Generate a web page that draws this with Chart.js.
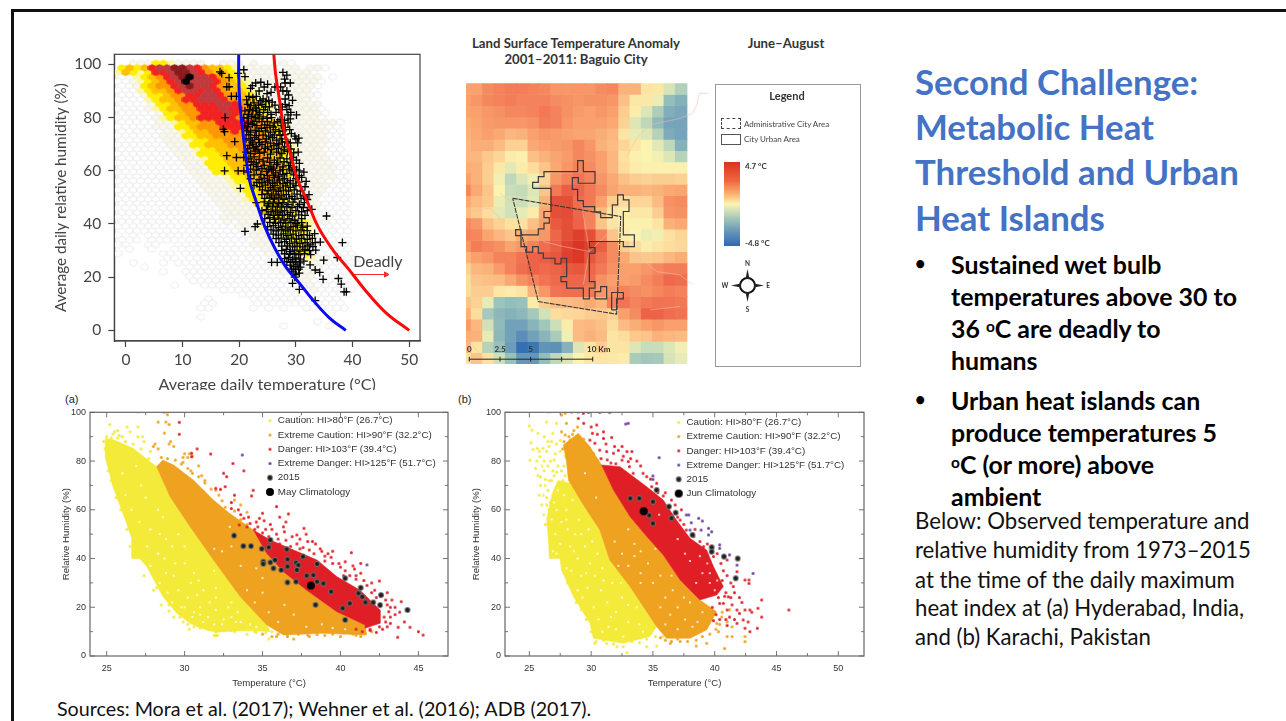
<!DOCTYPE html>
<html>
<head>
<meta charset="utf-8">
<title>Second Challenge</title>
<script src="https://cdn.jsdelivr.net/npm/chart.js@4/dist/chart.umd.min.js"></script>
<style>
html,body{margin:0;padding:0;background:#fff;width:1286px;height:721px;overflow:hidden;font-family:Lato,sans-serif;}
.t{position:absolute;white-space:nowrap;}
canvas{position:absolute;left:0;top:0;filter:blur(.4px);}
.wrap{position:absolute;overflow:hidden;}
.head{color:#4472c4;font-weight:700;font-size:34.8px;line-height:45px;left:915px;}
.bul{color:#000;font-weight:700;font-size:24.9px;line-height:32px;left:951px;}
.dot{color:#000;font-size:18px;line-height:32px;left:915px;font-weight:700;}
.para{color:#111;font-size:22.2px;line-height:29px;left:915px;}
sup{font-size:62%;line-height:0;vertical-align:baseline;position:relative;top:-.42em;}
.mapt{color:#333;font-weight:700;font-size:13.2px;line-height:16px;transform:translateX(-50%);}
</style>
</head>
<body>
<div style="position:absolute;left:11px;top:9px;right:0;height:2.5px;background:#111"></div>
<div style="position:absolute;left:11px;top:9px;bottom:0;width:2.5px;background:#111"></div>

<div class="wrap" style="left:40px;top:45px;width:400px;height:345px"><canvas id="hexChart" width="400" height="360"></canvas></div>

<div class="t mapt" style="left:576px;top:35px">Land Surface Temperature Anomaly</div>
<div class="t mapt" style="left:576px;top:51px">2001–2011: Baguio City</div>
<div class="t mapt" style="left:786px;top:35px">June–August</div>
<div class="wrap" style="left:450px;top:75px;width:270px;height:295px"><canvas id="mapChart" width="270" height="295"></canvas></div>

<div style="position:absolute;left:715px;top:84px;width:144px;height:281px;border:1px solid #999"></div>
<div class="t" style="left:787px;top:89px;transform:translateX(-50%);font-weight:700;font-size:11px;color:#333">Legend</div>
<div style="position:absolute;left:721px;top:118px;width:18px;height:9px;border:1px dashed #444"></div>
<div class="t" style="left:744px;top:119px;font-size:8px;color:#444">Administrative City Area</div>
<div style="position:absolute;left:721px;top:134px;width:18px;height:9px;border:1px solid #555"></div>
<div class="t" style="left:744px;top:134px;font-size:8px;color:#444">City Urban Area</div>
<div style="position:absolute;left:724px;top:162px;width:16px;height:84px;background:linear-gradient(#d9321f,#f0663f 22%,#fbb06e 38%,#fbf4b1 50%,#c6dcb8 60%,#6f9fb8 80%,#2d69b3)"></div>
<div class="t" style="left:745px;top:161px;font-size:8px;font-weight:700;color:#333">4.7 °C</div>
<div class="t" style="left:745px;top:238px;font-size:8px;font-weight:700;color:#333">-4.8 °C</div>
<svg style="position:absolute;left:722px;top:258px" width="52" height="56" viewBox="0 0 52 56">
<circle cx="25.5" cy="27.5" r="7.5" fill="#fff" stroke="#111" stroke-width="2"/>
<path d="M25.5 11 L27.5 21 L23.5 21 Z M25.5 44 L27.5 34 L23.5 34 Z M9 27.5 L19 25.5 L19 29.5 Z M42 27.5 L32 25.5 L32 29.5 Z" fill="#222"/>
<text x="25.5" y="8" font-size="6.5" font-weight="700" text-anchor="middle" fill="#333" font-family="Lato">N</text>
<text x="25.5" y="54" font-size="6.5" font-weight="700" text-anchor="middle" fill="#333" font-family="Lato">S</text>
<text x="3" y="30" font-size="6.5" font-weight="700" text-anchor="middle" fill="#333" font-family="Lato">W</text>
<text x="46" y="30" font-size="6.5" font-weight="700" text-anchor="middle" fill="#333" font-family="Lato">E</text>
</svg>

<div class="t" style="left:65px;top:393px;font:11px 'Liberation Sans';color:#222">(a)</div>
<div class="t" style="left:458px;top:393px;font:11px 'Liberation Sans';color:#222">(b)</div>
<div class="wrap" style="left:55px;top:400px;width:398px;height:295px"><canvas id="chartA" width="398" height="295"></canvas></div>
<div class="wrap" style="left:465px;top:400px;width:405px;height:295px"><canvas id="chartB" width="405" height="295"></canvas></div>

<div class="t head" style="top:59px">Second Challenge:</div>
<div class="t head" style="top:104px">Metabolic Heat</div>
<div class="t head" style="top:149px">Threshold and Urban</div>
<div class="t head" style="top:195px">Heat Islands</div>
<div class="t dot" style="top:247px">•</div>
<div class="t bul" style="top:248px">Sustained wet bulb</div>
<div class="t bul" style="top:280px">temperatures above 30 to</div>
<div class="t bul" style="top:312px">36 <sup>o</sup>C are deadly to</div>
<div class="t bul" style="top:344px">humans</div>
<div class="t dot" style="top:383px">•</div>
<div class="t bul" style="top:384px">Urban heat islands can</div>
<div class="t bul" style="top:416px">produce temperatures 5</div>
<div class="t bul" style="top:448px"><sup>o</sup>C (or more) above</div>
<div class="t bul" style="top:480px">ambient</div>
<div class="t para" style="top:506px">Below: Observed temperature and</div>
<div class="t para" style="top:535px">relative humidity from 1973–2015</div>
<div class="t para" style="top:565px">at the time of the daily maximum</div>
<div class="t para" style="top:593px">heat index at (a) Hyderabad, India,</div>
<div class="t para" style="top:622px">and (b) Karachi, Pakistan</div>
<div class="t" style="left:57px;top:697px;font-size:19.7px;line-height:24px;color:#111">Sources: Mora et al. (2017); Wehner et al. (2016); ADB (2017).</div>

<script>
// ---------- top left: hexbin with crosses ----------
var hexXTicks = [0, 10, 20, 30, 40, 50];
var hexYTicks = [0, 20, 40, 60, 80, 100];
// one string per hex row from RH 100 down, one letter per cell
var hexRows = [
"..cccyylcccc..ccc.c..ccw........",
"yayarmmddmroaaylccccc.cc.ccw....",
"laylyrrmddmroaaylcccccccccw.....",
"wwlyaormdkmmroaylcccccccccc.w...",
"wwclyaormkmmmroaylcccccccccw....",
"wwcyaoormdmmroaaylccccccccw.....",
"wwwlyaaormmrmroaaylcccccccw.....",
"wwwcyyaoorrmmrooaylcccccccw.....",
"wwwwlyaaorrmmmrooaylccccccw.....",
"wwwwcyyaoorrrmmroaaylcccccc.....",
"wwwwclyaaoorrrmrroaylccccccw....",
"wwwwwcyyaoorrrmrooaylccccccw....",
"wwwwwclyaaorrrrroaaylccccccw....",
"wwwwwcclyaaoorrrrroaaylccccccw..",
"wwwwwcccyyaooorrrrooaylcccccww..",
"wwwwwwcclyaaoooroooaaylcccccww..",
"wwwwwwcccyyaaoooooooaylcccccww..",
"wwwwwwccclyyaaooooooaylcccccww..",
"wwwwwwwcccyyaaaoooooaaylccccww..",
"wwwwwwwccclyyaaaooooaaylcccwww..",
"wwwwwwwwcccyyyaaaaooaaylccccww..",
"wwwwwwwwccclyyaaaoooaylcccccwww.",
"wwwwwwwwwcccyyyaaaoooyylcccccww.",
"wwwwwwwwwcccyyyaaaaoooylcccccww.",
"wwwwwwwwwwcccyyyaaaooaylcccccww.",
"wwwwwwwwwwcccclyyaaoooylcccccww.",
"wwwwwwwwwwwcccclyyaooaylccccwww.",
"wwwwwwwwwwwccccllyyaoaylccccwww.",
"wwwwwwwwwwwwcccclyyaaoylccccwww.",
"wwwwwwwwwwwwcccccyyyaaylcccwwww.",
"wwwwwwwwwwwwwcccclyyyaylcccwwww.",
"wwwwwwwwwwwwwcccccyyyaylcccwwww.",
"wwwwwwwwwwwwwwccccclyyylcccwwww.",
"wwwwwwwwwwwwwwcccccaylyyccwwwww.",
"wwwwwwwwwwwwwwcccccclyyylccwwww.",
"wwwwwwwwwwwwwwcwcccclyyaylccwww.",
"wwwwwwwwwwwwwwwwccclcclyylcwwww.",
".wwwwwwwwwwwwwwwwcccclyyylcwwww.",
"www.wwwwwwwwwwwwwwcccclylcwwww..",
"www.wwww.wwwwwwwwwcccccyylcwwww.",
"ww..ww..wwwwwwwwwwccccclylwwwww.",
".w..w..wwwwwwwwwwwwcccclycwwwww.",
"w.....ww.wwwwwwwwwwwccccyycwwwww",
"......ww.wwwwwwwwwwwwcccclccwwww",
"..w...w.wwwwwwwwwwwwwccccccwwwww",
"...w.....wwwwwwwwwwwwwcccccwwww.",
"......w..wwwwwwwwwwwwwcccccwwww.",
".........wwwwwwwwwwwwwwcccwwwww.",
"..........wwwwwwwwwwwwwwccwwwww.",
".......w...wwwwwwwwwwwwwccwwwww.",
"..............wwwwwwwwwwwwcwwwww",
"................wwwwwwwwwwwwwww.",
"............w.....wwwwwwwwwwww..",
"...........ww.....wwwwwwwwwwww..",
"...........ww.....w.w.w..wwwwww.",
"................................",
"...........w....................",
"..........................w.....",
"......................w.....w..."
];
var hexColors = {w:"#ffffff", c:"#f9f8ea", l:"#fbf7a6", y:"#ffee00", a:"#ffc000", o:"#ff9800", r:"#f22222", m:"#c23a3e", d:"#8b1a1e", k:"#000000"};
var hexOrder = ["w", "c", "l", "y", "a", "o", "r", "m", "d", "k"];

var bluePts = [[19.9,103.8],[19.9,96.6],[20.1,85.3],[20.6,75.3],[21.1,66.5],[21.8,56.5],[23.1,47.7],[24.5,39],[26.3,30.8],[28.4,23.3],[30.4,18.3],[33,11.4],[36,4.5],[38.8,0]];
var redPts = [[26.1,103.8],[26.4,96.6],[27.2,85.3],[28,74],[29,66.5],[30.1,57.8],[31.9,49],[33.9,39],[36.6,30],[39.2,23.3],[42.2,15.2],[46,6.4],[50,0]];
var arrowPts = [[40.2,21],[45.9,21]];

var crossPts = [
[16.6,97.2],[16.9,96.6],[18.2,95],[20.8,98],[19.8,96.6],[21,95.4],[17.8,91.6],[18.2,91.6],[18.6,88],[19.5,88],[17.5,80],[17.2,75.6],[17.4,74.7],[19.2,71],[17.8,65.7],[17.4,60],[19.5,65],[19.8,60],[20.2,53.4],
[35.4,43],[38.2,33],[34.9,26.4],[37.3,27.4],[37.5,19.5],[38,17.4],[38.5,14.5],[38.9,14.5],[34.8,19.2],[34.2,21.8],[33.4,22.7],[32.5,24.6],[29.4,17.7],[30.6,15.4],[33.4,11.2],[25.7,25.6],[26.7,25.6],[21,37.2],[22.8,39],[23.2,40],
[27.7,97],[28.4,96],[28,94.5],[29,93],[28.1,93],[22.9,93],[23.8,93.3],[22,91],[26.3,91.5],[27.3,91.5],[28.4,90],[23.5,90],[27.7,90],[24.9,89],[25.6,89.5],
[21.7,88],[22.4,87.5],[23,88],[24.2,87],[25.2,86.5],[28.1,87],[21.5,85],[22,84.5],[22.6,85.5],[23.4,84.7],[24,85],[24.6,84],[25.3,84],[28.1,85],[28.8,84.5],
[21,82.5],[21.8,83],[22.4,82.5],[23,82.8],[23.6,82],[24.3,83],[25,82],[28.4,83],[29.1,82],[20.8,80],[21.4,79.8],[22.2,80.5],[22.9,80],[23.5,79.5],[24.2,80.3],[24.9,79.7],[25.7,80],[28.6,81],[29,79.5],[30.1,81],
[21,77],[21.6,78],[22.3,77.5],[23.1,77],[24.5,77.3],[26.2,78],[26.8,78.5],[27.4,77],[21.3,75],[22,74.5],[22.8,75.2],[23.5,74.8],[24.6,75],[25.5,74.5],[26.4,75.5],[27,74.8],[27.7,75],
[21.2,72],[22,71.5],[22.7,72.5],[23.4,71.8],[24.8,72],[25.9,72.5],[26.6,71.5],[27.5,72],[28.4,71],[30.5,72.3],[30,72],[21.8,69.5],[22.4,70],[23,69.2],[24,69.8],[25,69],[26.1,69.5],[27,70],[28,69],[29,70.5],[30.3,70.5],
[21.2,67],[22,66.5],[22.8,67.4],[23.6,66.6],[24.4,67],[25.5,66.3],[26.6,67],[27.5,66.5],[28.5,67.3],[29.6,66.7],[30.4,67],[20.8,65],[21.7,64.5],[22.6,65.2],[23.5,64.3],[25,64.8],[26.2,64],[27.2,64.8],[28.4,64.5],[29.5,65],[30.1,64],
[21.4,62],[22.5,62.3],[23.3,61.6],[24.4,62],[25.6,61.5],[26.6,62.3],[27.7,61.5],[28.7,62],[29.6,61.4],[20.8,60],[21.6,59.5],[24.8,59.8],[25.7,60.3],[26.4,59.2],[27.2,60],[28.4,59],[29.3,60],[30.6,60],[31.4,59.5],
[22,57],[23.5,56.7],[24.4,57.2],[25.3,56.5],[26.2,57.4],[27.1,56.5],[28,57],[29,56.3],[30,57],[31,57.5],[31.8,56],[22.6,54.5],[23.6,54],[24.6,54.6],[25.5,53.7],[26.3,54.4],[27.2,53.6],[28.2,54.3],[29,53.8],[30,54.4],[31.6,54],
[24,51],[24.9,51.3],[25.7,50.6],[26.5,51.2],[27.4,50.6],[28.3,51],[29.3,50.4],[30.2,51.2],[31.3,50.6],[32.3,51],[23,48],[24.4,48.3],[25.2,47.6],[26,48.2],[26.9,47.6],[27.7,48],[28.6,47.4],[29.5,48.2],[30.6,47.4],[31.5,48],
[24,45],[24.8,45.4],[25.6,44.6],[26.4,45.2],[27.2,44.5],[28,45],[29,44.4],[30,45],[31,44.6],[32,45],[32.8,45.5],[24.5,42],[25.4,42.4],[26.2,41.7],[27,42.2],[27.9,41.5],[28.8,42],[29.8,41.4],[31,42],
[25,39],[26,39.4],[26.9,38.6],[27.7,39.2],[28.6,38.5],[29.5,39],[30.3,39.6],[31.2,38.7],[32,39.2],[26,36.2],[26.9,35.8],[27.8,36.3],[28.6,35.6],[29.5,36.2],[30.5,35.6],[31.4,36],[32.4,35.7],[33.3,36.4],
[27,33],[28,33.4],[28.9,32.6],[29.8,33.2],[30.7,32.6],[31.6,33],[32.5,32.4],[33.4,33],[34.3,33.2],[27.5,30],[28.3,30.4],[29,29.6],[29.8,30.2],[30.7,29.8],[31.6,30.4],[32.4,30],[33.5,30.2],
[28,27],[28.7,27.4],[29.4,26.6],[30,27.2],[30.8,26.8],[29,24.5],[29.6,24],[30.2,24.6],[30.8,23.8],[29.5,22],[30,21],[30.6,21.5],
[22.3,92],[24.4,91.5],[25,92.5],[28.7,88.5],[29.4,86.5],[27.6,84],[21.3,86.7],[23.7,86.4],[22.9,83.6],[24.7,86],[25.8,85.8],[26.3,84.7],[27,83],[26.5,82],[25.6,81.2],[23.3,81],[21.6,81.2],[22.6,78.6],[24,78.5],[25,78.5],[25.4,77],[27.2,79.2],[28,79],[28.6,78],
[21.5,76.5],[23.9,76],[24.9,76.2],[26,76.4],[28.1,76.3],[28.9,75.5],[21.7,73.5],[23,73.2],[24.2,73.4],[25.2,73],[26.2,73.5],[27.2,73.3],[28,73.6],[29.2,74],[29.8,73],[22.3,70.8],[23.6,70.6],[24.6,70.9],[25.5,70.4],[26.6,70.2],[27.6,70.8],[28.6,70.5],[21.5,68.3],[22.5,68.6],[23.3,68],[24.6,68.4],[25.7,68],[26.9,68.4],[27.9,67.9],[29.1,68.2],
[22.1,63.4],[23,63],[24.2,63.6],[25.4,63.2],[26.8,63],[27.9,63.4],[29,63],[30.6,62.8],[22,60.6],[23,60.3],[24,60.8],[25.2,60.6],[26,61],[27.7,60.4],[28.9,60.6],[30.1,60.5],[22.6,58.5],[23.8,58.6],[25,58.2],[26,58.4],[26.9,58],[27.7,58.6],[29.6,58.5],[30.6,58.2],
[23.1,55.6],[24,55.5],[25,55.7],[25.9,55.3],[26.7,55.7],[27.7,55.2],[28.5,55.6],[29.5,55.1],[30.5,55.7],[24.1,52.8],[25.1,52.5],[26,52.8],[26.9,52.3],[27.8,52.7],[28.7,52.4],[29.7,52.8],[30.8,52.4],[24.5,49.6],[25.4,49.8],[26.2,49.4],[27,49.8],[27.9,49.3],[28.8,49.7],[29.8,49.4],[30.9,49.6],[32,49.2],
[25,46.8],[25.9,46.4],[26.7,46.7],[27.5,46.3],[28.4,46.6],[29.3,46.2],[30.3,46.6],[31.3,46.2],[25.1,43.6],[26,43.2],[26.8,43.7],[27.6,43.2],[28.5,43.6],[29.4,43],[30.5,43.4],[31.6,43.2],[25.4,40.6],[26.4,40.2],[27.3,40.6],[28.2,40.3],[29.1,40.6],[30,40.2],[31,40.5],
[25.6,37.8],[26.5,37.4],[27.4,37.9],[28.2,37.4],[29,37.8],[30,37.4],[30.9,37.8],[32,37.5],[26.5,34.5],[27.4,34.7],[28.3,34.2],[29.2,34.7],[30.1,34.3],[31,34.6],[32,34.2],[32.9,34.6],[27.5,31.7],[28.5,31.8],[29.4,31.4],[30.2,31.7],[31.2,31.4],[32.1,31.8],[33,31.5],
[28,28.8],[28.9,28.6],[29.7,28.9],[30.5,28.5],[31.5,28.8],[32.6,28.5],[28.4,25.8],[29.1,25.6],[29.9,25.9],[30.6,25.4],[31.4,26],[29.2,23],[29.9,22.8],[30.5,23],[29.8,20]
];

// ---------- top middle: anomaly grid, degrees C, top row first ----------
var mapCols = ["c0","c1","c2","c3","c4","c5","c6","c7","c8","c9","c10","c11","c12","c13","c14","c15","c16","c17","c18","c19"];
var mapGrid = [
[1.9,2.0,2.4,2.6,2.7,2.7,2.6,2.5,2.2,2.2,2.2,2.2,2.4,2.5,1.6,1.6,0.4,0.3,-0.7,-1.5],
[2.0,2.2,2.5,2.6,2.7,2.6,2.6,2.6,2.4,2.3,2.2,2.3,2.3,2.2,1.3,0.3,0.3,-0.3,-2.2,-2.6],
[1.9,2.0,2.2,2.3,2.5,2.5,2.6,2.8,2.6,2.3,2.1,2.0,2.2,2.0,1.0,0.2,-0.6,-1.6,-2.7,-2.9],
[1.7,1.9,2.1,2.2,2.2,2.2,2.3,2.7,2.6,2.2,2.0,2.0,2.0,1.8,0.9,-0.6,-1.2,-2.3,-3.0,-3.0],
[1.6,1.8,2.0,1.8,1.5,1.6,2.0,2.2,2.1,2.0,1.9,1.9,1.7,1.5,0.4,-0.4,-0.6,-1.4,-2.8,-3.0],
[1.5,1.7,1.7,1.4,0.9,0.9,1.8,2.0,2.1,2.2,2.5,2.2,1.6,1.4,0.8,0.3,0,-0.5,-1.2,-2.6],
[1.5,1.5,1.1,0.8,0.2,0.1,1.3,1.6,1.9,2.1,2.5,2.3,2.0,1.5,0.5,0.1,0,-0.2,-0.6,-1.4],
[1.7,1.6,1.0,0.3,-0.5,0.2,0.6,1.2,1.8,2.2,2.6,2.4,2.0,1.5,0.6,0.2,0.1,0.1,0.1,0.1],
[2.0,1.6,1.0,-0.2,-1.2,-0.6,-0.2,0.8,2.2,2.6,2.9,2.6,2.2,1.8,1.3,1.0,0.9,1,1,0.9],
[2.5,1.8,1.2,0,-1,-1.1,-0.6,1.2,2.8,3.4,3.2,2.8,2.4,1.9,1.6,1.6,1.5,1.6,1.8,1.9],
[1.8,1.4,1.1,-0.3,-0.8,-0.9,-0.5,1.6,3.8,3.8,3.0,2.8,2.0,1.0,0.6,0.8,0.8,1.4,2.3,2.4],
[1.4,1.1,0.6,-0.5,-0.8,-0.4,0.2,1.8,3.8,3.9,3.2,2.6,1.4,0.4,0.2,0.3,0.3,1.0,2.2,2.3],
[2.4,2.2,1.3,0.9,0.5,0.5,1.3,2.0,3.5,3.8,3.3,2.6,1.2,0.4,0.1,0.1,0.1,0.4,1.6,1.8],
[2.6,2.5,1.9,1.5,1.2,1.7,1.9,2.2,3.2,3.8,4.2,3.8,2.6,1.2,0.2,0,-0.3,-0.2,0.5,0.8],
[2.2,2.7,2.5,2.3,1.9,2.2,2.6,3.0,3.4,4.1,4.5,4.2,3.4,2.4,1.0,0.6,0.2,0.4,0.6,0.7],
[1.6,2.0,2.2,2.6,2.6,2.9,3.3,3.4,3.6,4.2,4.4,3.6,3.0,2.4,1.8,1.2,1.1,1.2,1.5,1.7],
[0.9,1.5,1.6,2.1,2.6,3.0,3.3,3.1,3.3,3.5,3.6,3.2,2.8,2.3,2.0,2.0,2.2,2.5,2.7,2.7],
[0.6,1.2,1.3,1.4,1.8,2.3,2.6,2.9,3.1,3.2,3.2,3.0,2.3,2.0,2.0,2.1,2.4,2.7,3.1,3.0],
[0.6,1.0,1.0,0.3,0.2,0.4,1.6,2.2,2.9,3.0,3.0,2.8,2.2,2.2,2.6,2.4,2.3,2.5,2.7,2.6],
[1.2,0.9,-0.4,-2,-2.2,-2.1,0.2,1.0,1.3,1.4,1.5,1.8,1.5,2.6,2.9,2.6,2.8,2.9,2.9,2.8],
[1.6,0.6,-1.8,-2.4,-2.6,-2.4,-1.8,-0.8,0.6,0.7,0.8,1.0,1.1,0.9,2.0,2.4,3.3,3.3,3.0,2.9],
[2.1,1.5,-0.8,-2.3,-3.1,-3.1,-2.5,-1.9,-0.9,0.2,1.4,1.5,1.3,0.6,1.4,1.7,2.0,2.2,2.0,2.0],
[1.7,1.6,-0.4,-2.4,-3.1,-3.7,-3.1,-2.5,-1.7,-0.2,1.4,1.6,1.4,0.4,0.6,1.1,1.2,1.6,1.5,1.4],
[1.5,0.4,-1.4,-2.1,-3.2,-4.6,-4.4,-3.5,-3.6,-2.6,-0.6,0.4,1.0,0.4,0.4,-0.6,-1.0,-1.0,-0.6,-0.2],
[0.5,1.2,0.5,-0.9,-2.1,-3.4,-3.4,-2.2,-1.2,-0.6,0,0.3,0.4,0.3,0.2,-1.7,-1.9,-1.8,-0.7,-0.4]
];
var rampStops = [[-4.8,[45,105,179]],[-3,[118,164,186]],[-2,[156,196,186]],[-1,[200,221,186]],[0,[251,244,177]],[1,[252,205,145]],[2,[249,160,108]],[3,[240,110,80]],[4.7,[215,45,30]]];

// outlines in map cells (column, row)
var urbanOutline = [[5.88,9.35],[5.88,8.82],[6.38,8.82],[6.38,8.31],[6.88,8.31],[6.88,7.86],[9.85,7.86],[9.85,6.88],[10.35,6.88],[10.35,7.86],[11.38,7.86],[11.38,8.9],[9.91,8.9],[9.91,8.4],[9.38,8.4],[9.38,9.44],[9.85,9.44],[9.85,10.45],[10.35,10.45],[10.35,10.98],[11.35,10.98],[11.35,11.45],[11.88,11.45],[11.88,11.96],[12.91,11.96],[12.91,10.83],[13.38,10.83],[13.38,9.94],[13.88,9.94],[13.88,10.39],[14.38,10.39],[14.38,11.42],[13.88,11.42],[13.88,13.5],[14.85,13.5],[14.85,14.54],[13.88,14.54],[13.88,14.09],[10.88,14.09],[10.88,14.63],[11.38,14.63],[11.38,15.13],[10.88,15.13],[10.88,17.66],[11.38,17.66],[11.38,18.25],[10.88,18.25],[10.88,19.2],[10.35,19.2],[10.35,18.25],[8.88,18.25],[8.88,17.66],[8.38,17.66],[8.38,17.21],[8.88,17.21],[8.88,15.58],[8.38,15.58],[8.38,16.08],[7.85,16.08],[7.85,15.58],[6.82,15.58],[6.82,15.13],[6.38,15.13],[6.38,14.54],[5.88,14.54],[5.88,15.04],[5.35,15.04],[5.35,14.54],[4.85,14.54],[4.85,13.56],[4.38,13.56],[4.38,13.03],[4.85,13.03],[4.85,13.5],[6.38,13.5],[6.38,12.97],[6.88,12.97],[6.88,12.46],[7.35,12.46],[7.35,11.96],[6.88,11.96],[6.88,11.42],[7.5,11.42],[7.5,9.35],[6.38,9.35],[5.88,9.35]];
var urbanSmall1 = [[11.38,19.2],[12.41,19.2],[12.41,18.1],[11.88,18.1],[11.88,18.55],[11.38,18.55],[11.38,19.2]];
var urbanSmall2 = [[12.85,20.18],[13.29,20.18],[13.29,19.2],[13.88,19.2],[13.88,18.63],[12.85,18.63],[12.85,20.18]];
var adminOutline = [[4.12,10.24],[13.65,11.87],[13.59,13.5],[13.29,20.56],[6.38,19.44],[4.12,10.24]];
var roads = [
[[21.4,0.9],[20.6,0.9],[20.35,1.9],[20,2.67],[18.88,3.12],[16.24,3.71],[15.06,4.9],[14.18,6.53]],
[[10.21,10.83],[10.5,12.6],[10.88,14.98],[10.35,17.95]],
[[6.82,14.09],[8.59,14.54],[10.88,14.98],[12.71,13.21],[13.88,12.6]],
[[14.76,14.98],[16.82,16.77],[18.88,17.06],[20,17.95]],
[[16.24,20.18],[18.88,19.88]],
[[3,9.8],[4.47,10.83]],
[[0.35,11.42],[2.12,11.12],[3,12.02]],
[[0.06,22.7],[1.53,24.5]]
];
var scaleBarPts = [[0.29,24.57],[3,24.57],[5.7,24.57],[8.44,24.57],[11.18,24.57]];
var scaleLabels = ["0", "2.5", "5", "", "10 Km"];

// ---------- bottom charts ----------
var tempTicksA = [25, 30, 35, 40, 45];
var tempTicksB = [25, 30, 35, 40, 45, 50];
var tempMinor = [27.5, 32.5, 37.5, 42.5, 47.5];
var humTicks = [0, 20, 40, 60, 80, 100];
var humMinor = [10, 30, 50, 70, 90];
var legendNames = ["Caution: HI>80°F (26.7°C)", "Extreme Caution: HI>90°F (32.2°C)", "Danger: HI>103°F (39.4°C)", "Extreme Danger: HI>125°F (51.7°C)", "2015"];

var yellowAreaA = [[24.9,89.3],[25.5,88.6],[26.7,85.2],[28.2,77.7],[29.06,65.4],[30.35,53],[31.85,39.4],[33.56,24.4],[35.27,12.7],[35.5,10],[34,10.5],[32,9.7],[31,11.5],[30.35,13.4],[29.5,17.5],[28.6,24.4],[27.57,36.7],[27.1,40],[26.6,40],[26.6,48.3],[26.2,55.8],[25.4,69.5],[24.9,81.8],[24.9,89.3]];
var orangeAreaA = [[28.2,77.7],[28.6,80.4],[29.3,78.4],[30.56,72.2],[31.85,64],[32.9,58.5],[34.41,51.7],[35.27,42.1],[36.34,34.6],[37.83,27],[39.76,18.2],[41.58,12.7],[41.68,8.6],[38.9,9.3],[36.34,8.6],[35.27,12.7],[33.56,24.4],[31.85,39.4],[30.35,53],[29.06,65.4],[28.2,77.7]];
var redAreaA = [[34.41,51.7],[35.5,47.6],[37,43.5],[38.5,39.4],[39.76,32.6],[41.26,27],[42.54,18.9],[42.54,13.4],[41.58,11.4],[41.58,12.7],[39.76,18.2],[37.83,27],[36.34,34.6],[35.27,42.1],[34.41,51.7]];
var yellowDotsA = [[25.2,95],[25.5,92],[25.4,91],[25.7,92.5],[26.3,94],[27,94],[26.5,92],[27,90],[27.3,90],[26,90],[25.8,90.5],[27.4,88],[27,100],[27.8,84],[32,8.5],[32.1,8.5],[31.9,8.5],[33.2,10],[34,9],[34.5,10],[35.4,7],[35.6,10],[30.6,12],[31,11.5],[30.3,11],[29.9,14],[29.3,16],[28.5,21],[29,18.5],[28,27],[27.4,33],[33,12],[31.5,11],
[24.9,85],[24.8,88],[25,90],[25.3,89.5],[25.7,89.5],[26.2,88],[26.7,87],[27.2,85],[27.7,81],[25.1,76],[25.3,72],[25.6,65],[25.9,60],[26.3,52],[26.5,45],[28.2,28],[29,21],[29.7,16],[30.2,13],[30.9,12.5],[32,10],[33,10.5],[33.8,11],[34.6,9.7],[35.2,9.5]];
var orangeDotsA = [[28.7,100],[28.9,99],[28.3,96],[28.8,96],[29,95],[28.7,91.5],[29.1,88],[29.3,86],[29,87],[28.1,87],[28.3,85],[28,86],[30,83],[30.3,83],[30.5,82],[30.2,81.5],[29.9,81.5],[31.1,74],[31.3,71],[32,68],[32.2,66],[33.2,64],[33.6,62],[34,59],[37,7],[38,8],[39,8.5],[40,8],[41.3,8],[42,10],[36.6,8],[35.9,8],
[28.5,81.5],[28.9,81],[29.4,80.4],[29.8,78.8],[30.2,77],[30.5,75],[30.9,73.6],[31.3,72],[31.7,68.5],[31.2,67.5],[32.4,63.7],[32.6,61],[33.2,59.5],[33.6,56],[34,54],[35,9],[35.6,8],[36,9],[36.6,9],[37.3,9],[37.9,8.6],[38.5,8.8],[39.5,9],[40.2,9.5],[40.8,9],[41.3,9],[41,8.5],[30.9,78],[29.9,79.5],[30.4,76]];
var redDotsA = [[29.66,95.9],[29.66,91],[30.45,83.2],[30.45,81.8],[30.8,85],[31.67,82.9],[32.5,75],[33.1,79],[33.8,76],[32.7,73.6],[32,68.8],[32.3,68.4],[32.6,69.5],[33.2,66],[34.4,68],[34.3,65.7],[35.9,61.3],[36.66,58.3],[36.1,57],[34.8,56.5],[35.5,54],[33,63],[33.45,60],[33.8,56.5],[34.2,54.4],[37.2,49.7],[37.66,52.4],[36.34,53],[38.7,44],[39.2,42],[40.7,42.4],[40.3,38.7],[41.3,38],[40.9,35.7],[41.5,31],[42.5,30.8],[42.2,27],[43.9,22.3],[44.1,14],[44.46,11.8],[45,10],[45.3,8.6],[43.67,7.7],[43.7,11.8],[43.2,13.4],[43.1,18.2],[34.5,52],[35,50.5],[35.4,49],[36,48],[36.5,47.5],[37.2,46],[37.6,44.5],[38.3,42],[39,41],[39.5,38],[40,36.5],[40.6,33],[41,31.5],[42,26],[42.7,25],[43,21],[43.2,16],[43.5,17],[42.9,14],[42.5,12],[42.7,11],[41.9,10.5],
[34,53],[34.7,53],[35.2,52],[35.9,50],[36.4,51],[36.9,49],[37.4,48],[37.9,47],[38.4,46],[36.1,46],[36.8,45],[37.4,44],[38,43.5],[38.8,43],[39,39],[39.4,40.5],[39.9,38],[40.3,35],[40.8,37],[40.2,33],[41,33],[41.3,34],[41.7,29],[42,30],[42.3,24],[42.9,23],[43,26],[43.3,23],[43.5,20],[43.8,18],[43.2,20],[43,12],[42.8,16],[41.9,11],[42.3,9.7],[41.4,10],[41,11],[33,60.5],[33.6,58],[34.1,57],[34.6,55],[35.1,55.5],[35.6,52],[33.5,53.8],[35,58.6],[36.5,55],[37.8,50],[38.2,47],[39.5,43]];
var purpleDotsA = [[33.7,82.5],[41.7,37.4]];
var dots2015A = [[33.17,49.4],[33.77,45.1],[34.26,45.1],[34.95,44],[35.4,44.6],[35.5,47.6],[35.05,38.7],[35.05,37.8],[35.5,38.4],[35.8,39.4],[35.7,36],[36.2,35.3],[36.55,43.8],[36.6,39.7],[36.6,36.7],[36.6,30.2],[37.15,38.3],[37.3,37.3],[37.2,35.3],[37.15,30.5],[37.6,40.8],[38.5,37.8],[37.83,33],[38.26,33.2],[38.5,30.5],[38.9,29.8],[39.4,26.4],[38.4,21],[40.3,31.9],[40.3,14.8],[40.14,19.6],[40.6,21.6],[41.3,28],[41.15,25.7],[41.4,24.3],[41.6,22],[42.1,22],[42.54,20.9],[42.6,25],[44.3,18.9]];
var climA = [[38.1,28.9]];
var whiteYellowA = [[30,20],[30.6,18],[31,20],[31.5,16],[32,19],[32.5,15],[33,16],[31.6,22],[30.2,24],[29.6,27],[30.8,25],[33.6,14],[34.2,13],[32.8,20],[31.2,14],[29.2,22],[28.9,26],[28.4,30],[29.3,33],[27.8,37],[28.7,40],[27.6,45],[27.1,55],[26.6,60],[26.2,66],[27.2,70],[26,75],[26.9,78],[27.5,65],[28.4,50],[29.2,45],[30,38],[30.9,31],[32,28],[33,22],[31.9,35],[29.6,50],[28.3,60],[28.6,57],[30,45],[34.6,12],
[30.5,16],[31.9,13],[32.4,13],[33.3,14],[31,17],[32,24],[33.4,18],[29.8,20],[31.2,27],[30.4,30],[29.4,38],[28.3,42],[30.6,34],[28.8,34],[27.8,52],[28.8,48]];
var whiteOrangeA = [[31.9,44],[32.4,43],[33.6,37],[34,27],[34.5,22],[35,26],[35.4,18],[36.4,21],[33,45],[37.8,12],[38.8,13],[36,14],[37,17],[32.9,53],[34.6,36],[35,32],[40.3,11],[39.5,11.5]];

var yellowAreaB = [[28.3,71],[29.37,62],[30.7,51.7],[31.5,39.4],[33.14,28.5],[35.3,12],[34.76,8],[32.6,5.2],[30.18,7.25],[29.9,13.4],[28.56,24.4],[27.6,35.3],[27.48,40],[26.62,40],[26.54,47.6],[26.4,56],[26.8,66],[27.3,72],[28.3,71]];
var orangeAreaB = [[27.75,86.6],[28.96,91.4],[29.9,85.9],[30.85,78.4],[31.8,68.1],[33.14,57.2],[34.5,49],[35.84,41.4],[37.2,31.2],[38.8,23],[40.16,18.2],[39.35,10.7],[38,7.25],[36.1,7.25],[35.3,12],[33.14,28.5],[31.5,39.4],[30.7,51.7],[29.37,62],[28.16,72.2],[28,79.8],[27.75,86.6]];
var redAreaB = [[30.85,78.4],[32.34,77.7],[34.5,69.5],[35.84,64],[36.9,55.8],[38,48.3],[39.35,43.5],[39.9,36.7],[40.7,28.5],[40.16,25],[38.8,23],[37.2,31.2],[35.84,41.4],[34.5,49],[33.14,57.2],[31.8,68.1],[30.85,78.4]];
var yellowDotsB = [[25,94.4],[25.2,92.7],[25.13,87.5],[25.05,80.4],[25.7,91.4],[26.4,96],[26.56,100],[25.65,85.2],[25.85,81.8],[25.3,84.8],[26.1,85.2],[26.9,91.4],[27.2,95.5],[32.9,1.4],[32.1,3.8],[32.6,3.8],[30.3,5.2],[31.26,5.2],[34.5,3.8],[35.3,4.1],[35.8,8],
[25.5,77],[25.7,74],[25.9,70],[25.8,66],[26,62],[26.2,58],[26.3,54],[26.1,66],[26.3,70],[26.2,76],[26.5,78],[26.7,80],[26.4,84],[26.8,88],[27.2,87],[27.5,84],[27.1,83],[26.9,76],[26.6,72],[26.5,68],[26.4,62],[26.6,60],[27,74],[27.3,78],[27.6,76],[27.8,78],[27.9,74],[27.4,70],[27.7,72],[26.8,72],[26.2,80],[26,78],[25.8,84],[26.6,86],[27,80.5],[27.5,88.5],[27.9,82],[26.3,72.5],[26.4,65],[26.7,63],[26.5,88],[26.2,90],[25.6,80],[27.2,75.5],[25.9,73.5],[27.8,69],[28,67],[27.5,66],
[29.2,19],[28.8,22],[28.1,30],[29.6,15],[30,10],[30.4,6],[31,6.5],[31.8,5],[33.3,6],[33.9,5.5],[34.5,7],[35.2,8]];
var orangeDotsB = [[27.6,98.9],[28.4,100],[27.9,99.6],[28.96,100],[28,95.5],[27.6,92],[27.9,90.7],[28.3,88.6],[28.7,85.9],[41.4,12],[41,8],[41.4,8],[42.45,8],[42.45,5.9],[38.5,4.1],[39.35,5.2],[40.8,3.1],[36.4,5.2],[36.9,8],[40.16,13.4],[40.56,16],
[27.8,88],[28.2,90],[28.5,91],[29,90],[29.4,89],[27.7,85],[29.8,85.7],[30.2,83],[30.5,80],[28.6,92.5],[28.9,94],[36,6.5],[36.5,6],[37.2,6],[37.8,6],[38.5,6.5],[39,8],[39.6,9],[40.1,11],[40.4,13],[41,14],[39.7,15],[40.3,10],[36.3,8.5],[35.6,7.5],[40.6,18],[41.2,19],[37,7]];
var redDotsB = [[29.37,99.6],[29.8,100],[30.7,100],[31.5,100],[28.96,97.5],[29.4,95.5],[30,94],[30.45,94.8],[29.9,88.6],[30.3,87.3],[31,89.3],[31.66,89.7],[30.1,91.4],[30.7,84.5],[31.26,83.9],[31.8,83.2],[32.9,83.9],[33.3,83.9],[32.5,80.4],[33,79.8],[33.1,77.7],[34,78],[31.6,79.2],[34.5,73.6],[34.9,69.5],[35.3,70.9],[35.84,65.7],[36.5,64],[35.84,61.3],[37,57],[37.2,55.8],[37.7,51.7],[38.3,49],[38.7,44.9],[39.1,44.9],[39.9,40.8],[41,39.4],[41.8,34.6],[42.45,31.2],[42.77,31.2],[42.77,29.8],[43.8,23],[43.5,19.6],[43.8,16],[43.45,11.4],[42.85,10],[42.45,11.4],[46,18.9],[42.45,18.9],[42.85,18.9],[41.8,18.9],[42.3,14.8],[41.8,13.4],[41.2,16],[41,18.9],[40.7,21.6],[41.1,24.3],[41.5,28.5],[40.4,21.6],[40.6,31],[40.9,26],[39.8,20],
[30.5,91],[31,92],[31.2,87],[31.9,86],[32.2,84.4],[32.6,82],[33.2,81],[33.7,80],[32.5,86],[31.3,80.5],[30.8,81],[32,78.9],[33.4,75],[34.2,75],[34.8,72.6],[35.4,67],[36,67],[36.8,62],[37.3,60],[37.5,54],[38.4,52],[38.8,47],[39.4,46],[39.8,44],[40.2,42],[40.5,38],[40.7,35],[41,33],[41.3,30],[41.6,26],[42,24],[41.4,21],[40.8,24.5],[40.3,24],[40.1,17],[40.9,15],[41.6,15],[42,17.5],[42.7,14],[43,18],[41,12.5],[40.4,15],[39.9,14.5],[41.3,24],[42.2,22]];
var purpleDotsB = [[33,95.5],[32.8,95.2],[35.5,81.4],[35,73.9],[35,72.5],[37.7,57.9],[37.9,57.9],[38.1,54.7],[38.7,56.5],[39,55.4],[38,51.7],[38.9,51.7],[39.5,52.4],[39.75,51],[39.5,49.7],[40.4,45.6],[40.4,44.2],[41.2,41.5],[41.8,37.3],[43.1,33.9]];
var dots2015B = [[33.17,64.7],[33.9,64.7],[35,63.3],[35.3,68.1],[36.3,61.3],[36.84,58.8],[36.5,56.5],[34.7,57.7],[35,54.4],[38.2,49.7],[39.75,44.6],[39.75,42.8],[40.75,40.8],[41.86,40],[41.7,31.9]];
var climB = [[34.25,59.4]];
var whiteYellowB = [[26.2,75],[26.5,82],[26.9,70],[26.7,65],[27.2,60],[27.4,74],[27,78],[26.8,86],[27.4,82],[26.4,70],[27.8,66],[28,60],[27.6,55],[27.1,50],[27.5,46],[26.9,43],[28.1,52],[28.3,45],[28.7,50],[29,56],[28.9,40],[28.4,35],[29.5,45],[29.9,38],[29.2,33],[29.7,28],[30.3,33],[30.8,27],[30.2,20],[30.6,15],[31.3,22],[31.7,30],[32,18],[32.5,24],[33,14],[33.7,20],[34.2,10],[31.4,12],[32.6,8],[30.5,42],[29.3,24],[28.5,64],[27,63],[26.6,73],[26,66],[26.3,58],[25.9,78],[27.9,75],[27.3,68],[26.8,56],[27.2,42],
[30.9,36],[30.1,47],[29.2,50],[29.8,52],[28,56],[28.6,43],[29.6,34],[31,31],[32.4,30],[31.6,16],[33,21],[33.9,13],[32,11],[30.9,10],[28.9,27],[28,36]];
var whiteOrangeB = [[31.9,47],[32.5,42],[33,37],[33.5,41],[34,34],[34.6,38],[35,30],[35.6,33],[36,24],[36.6,27],[37,20],[37.6,15],[38,22],[36,13],[37,11],[38.6,14],[33.5,46],[35.2,44],[34,30],[39,18],[30.4,65],[29.5,75],[33,52],[34,43],[32.2,37],[36.4,17],[38.2,12],[35.6,20],[37.5,24],[36.5,33]];
var whiteRedB = [[37,48],[38,39],[39,34],[38.5,30],[39.6,30],[40,27],[35.5,58],[39.4,38],[38.8,41],[39.6,34],[37.6,42],[40.2,31]];

function xy(list) {
  return list.map(function (p) { return {x: p[0], y: p[1]}; });
}

function noMargins(s) {
  s.paddingTop = 0; s.paddingBottom = 0; s.paddingLeft = 0; s.paddingRight = 0;
}

function hexImage(fill, stroke) {
  var c = document.createElement("canvas");
  c.width = 9; c.height = 8;
  var g = c.getContext("2d");
  g.beginPath();
  g.moveTo(4.5, 0.7); g.lineTo(8.2, 2.3); g.lineTo(8.2, 5.7);
  g.lineTo(4.5, 7.3); g.lineTo(0.8, 5.7); g.lineTo(0.8, 2.3);
  g.closePath();
  g.fillStyle = fill; g.fill();
  g.strokeStyle = stroke; g.lineWidth = 0.8; g.stroke();
  return c;
}

function dotImage(color, r, halo) {
  var c = document.createElement("canvas");
  var s = Math.ceil(r * 2) + 2;
  c.width = s; c.height = s;
  var g = c.getContext("2d");
  g.beginPath(); g.arc(s / 2, s / 2, r, 0, 7);
  g.fillStyle = halo || color; g.fill();
  if (halo) {
    g.beginPath(); g.arc(s / 2, s / 2, r * 0.68, 0, 7);
    g.fillStyle = color; g.fill();
  }
  return c;
}

function ramp(v) {
  for (var i = 1; i < rampStops.length; i++) {
    if (v <= rampStops[i][0]) {
      var a = rampStops[i - 1], b = rampStops[i], t = (v - a[0]) / (b[0] - a[0]);
      return "rgb(" + [0, 1, 2].map(function (k) { return Math.round(a[1][k] + (b[1][k] - a[1][k]) * t); }).join(",") + ")";
    }
  }
  return "rgb(215,45,30)";
}

// box round the plot, with short inward ticks when given
function framePlugin(xMajor, xMinor, yMajor, yMinor, color) {
  return {
    id: "frame",
    afterDatasetsDraw: function (chart) {
      var a = chart.chartArea, g = chart.ctx, sx = chart.scales.x, sy = chart.scales.y;
      g.save();
      g.strokeStyle = color;
      g.lineWidth = 1.2;
      g.strokeRect(a.left, a.top, a.width, a.height);
      g.lineWidth = 0.9;
      function tx(list, len) {
        list.forEach(function (v) {
          var p = sx.getPixelForValue(v);
          if (p > a.right) return;
          g.beginPath(); g.moveTo(p, a.bottom); g.lineTo(p, a.bottom - len);
          g.moveTo(p, a.top); g.lineTo(p, a.top + len); g.stroke();
        });
      }
      function ty(list, len) {
        list.forEach(function (v) {
          var p = sy.getPixelForValue(v);
          g.beginPath(); g.moveTo(a.left, p); g.lineTo(a.left + len, p);
          g.moveTo(a.right, p); g.lineTo(a.right - len, p); g.stroke();
        });
      }
      tx(xMajor, 5); tx(xMinor, 3); ty(yMajor, 5); ty(yMinor, 3);
      g.restore();
    }
  };
}

// legend inside the plot, read from the labelled datasets
function keyPlugin(dotX, topY, step) {
  return {
    id: "key",
    afterDatasetsDraw: function (chart) {
      var g = chart.ctx, row = 0;
      g.save();
      g.font = "9.8px 'Liberation Sans'"; g.fillStyle = "#333"; g.textBaseline = "middle";
      chart.data.datasets.forEach(function (d) {
        if (!d.label) return;
        var img = d.pointStyle, y = topY + step * row;
        g.drawImage(img, dotX - img.width / 2, y - img.height / 2);
        g.fillText(d.label, dotX + 7.8, y);
        row++;
      });
      g.restore();
    }
  };
}

// ---------- hexbin chart ----------
var hexData = {};
hexOrder.forEach(function (k) { hexData[k] = []; });
hexRows.forEach(function (row, n) {
  var y = 100.4 - 1.703 * n;
  var x0 = n % 2 ? -0.73 : -1.395;
  row.split("").forEach(function (k, j) {
    if (hexData[k]) hexData[k].push({x: x0 + 1.33 * j, y: y});
  });
});
var hexSets = hexOrder.map(function (k, i) {
  var plain = k === "w" || k === "c";
  return {
    label: "", data: hexData[k], order: 20 - i,
    pointStyle: hexImage(hexColors[k], plain ? "#e8e8e8" : hexColors[k]),
    pointRadius: 3
  };
});
var curveSets = [
  {label: "", data: xy(crossPts), order: 3, pointStyle: "cross", pointRadius: 4, pointBorderWidth: 1.3, pointBorderColor: "#000", pointBackgroundColor: "#000"},
  {label: "", data: xy(bluePts), order: 2, showLine: true, tension: 0.4, borderColor: "#0a0af5", borderWidth: 3, pointRadius: 0},
  {label: "", data: xy(redPts), order: 1, showLine: true, tension: 0.4, borderColor: "#fa0a0a", borderWidth: 3, pointRadius: 0},
  {label: "", data: xy(arrowPts), order: 1, showLine: true, borderColor: "#f03030", borderWidth: 1, pointRadius: [0, 3], pointStyle: "triangle", pointRotation: 90, pointBackgroundColor: "#f03030", pointBorderColor: "#f03030"}
];

new Chart(document.getElementById("hexChart"), {
  type: "scatter",
  data: {datasets: hexSets.concat(curveSets)},
  options: {
    responsive: false, animation: false,
    layout: {padding: {top: 9.3, right: 20}},
    plugins: {legend: {display: false}, tooltip: {enabled: false}},
    scales: {
      x: {
        min: -2.06, max: 51.9,
        afterBuildTicks: function (s) { s.ticks = hexXTicks.map(function (v) { return {value: v}; }); },
        afterFit: function (s) { s.height = 64; noMargins(s); },
        grid: {drawOnChartArea: false, tickLength: 6, tickColor: "#444", tickWidth: 1.2},
        border: {color: "#444", width: 1.2},
        ticks: {font: {family: "Lato", size: 15.5}, color: "#444", padding: 4, maxRotation: 0, autoSkip: false},
        title: {display: true, text: "Average daily temperature (°C)", font: {family: "Lato", size: 16.2}, color: "#444", padding: {top: 11, bottom: 11}}
      },
      y: {
        min: -4, max: 103.8,
        afterBuildTicks: function (s) { s.ticks = hexYTicks.map(function (v) { return {value: v}; }); },
        afterFit: function (s) { s.width = 74.3; noMargins(s); },
        grid: {drawOnChartArea: false, tickLength: 6, tickColor: "#444", tickWidth: 1.2},
        border: {color: "#444", width: 1.2},
        ticks: {font: {family: "Lato", size: 15.5}, color: "#444", padding: 7, autoSkip: false},
        title: {display: true, text: "Average daily relative humidity (%)", font: {family: "Lato", size: 15.2}, color: "#444", padding: {top: 12, bottom: 12}}
      }
    }
  },
  plugins: [framePlugin([], [], [], [], "#444"), {
    id: "deadly",
    afterDatasetsDraw: function (chart) {
      var g = chart.ctx;
      g.save();
      g.font = "16px Lato"; g.fillStyle = "#444"; g.textBaseline = "middle";
      g.fillText("Deadly", chart.scales.x.getPixelForValue(40.1), chart.scales.y.getPixelForValue(25.8));
      g.restore();
    }
  }]
});

// ---------- map chart ----------
var cellSets = mapGrid.map(function (row) {
  return {type: "bar", data: row.map(function () { return 1; }), backgroundColor: row.map(ramp), borderWidth: 0, order: 5, xAxisID: "x", yAxisID: "y", stack: "m", barThickness: 11.8};
});
var lineSets = roads.map(function (r) {
  return {type: "scatter", data: xy(r), showLine: true, clip: false, borderColor: "rgba(240,190,170,.55)", borderWidth: 1, pointRadius: 0, order: 4, xAxisID: "x2", yAxisID: "y2"};
});
[urbanOutline, urbanSmall1, urbanSmall2].forEach(function (o) {
  lineSets.push({type: "scatter", data: xy(o), showLine: true, borderColor: "#3a3a3a", borderWidth: 1.2, pointRadius: 0, order: 2, xAxisID: "x2", yAxisID: "y2"});
});
lineSets.push({type: "scatter", data: xy(adminOutline), showLine: true, borderColor: "#3a3a3a", borderWidth: 1.1, borderDash: [5, 1], pointRadius: 0, order: 3, xAxisID: "x2", yAxisID: "y2"});
lineSets.push({type: "scatter", data: xy(scaleBarPts), showLine: true, borderColor: "#222", borderWidth: 1, pointStyle: "line", pointRotation: 90, pointRadius: 2.4, pointBorderColor: "#222", pointBorderWidth: 1, order: 1, xAxisID: "x2", yAxisID: "y2"});

new Chart(document.getElementById("mapChart"), {
  data: {labels: mapCols, datasets: cellSets.concat(lineSets)},
  options: {
    responsive: false, animation: false,
    layout: {padding: {left: 16, top: 8.3, right: 27.3, bottom: 6}},
    plugins: {legend: {display: false}, tooltip: {enabled: false}},
    scales: {
      x: {display: false, stacked: true, offset: true},
      y: {display: false, stacked: true, reverse: true, min: 0, max: mapGrid.length},
      x2: {type: "linear", display: false, min: 0, max: mapCols.length},
      y2: {type: "linear", display: false, reverse: true, min: 0, max: mapGrid.length}
    }
  },
  plugins: [{
    id: "scaleText",
    afterDatasetsDraw: function (chart) {
      var g = chart.ctx;
      g.save();
      g.font = "bold 8px Lato"; g.fillStyle = "#333"; g.textAlign = "center"; g.textBaseline = "middle";
      scaleBarPts.forEach(function (p, i) {
        g.fillText(scaleLabels[i], chart.scales.x2.getPixelForValue(p[0]) + (i === 4 ? 6 : 0), chart.scales.y2.getPixelForValue(23.74));
      });
      g.restore();
    }
  }]
});

// ---------- bottom scatter charts ----------
function heatChart(id, leftW, rightPad, xMin, xMax, xTicks, d, climName, keyX, keyY) {
  var area = function (list, color, order) {
    return {label: "", data: xy(list), showLine: true, fill: "shape", backgroundColor: color, borderColor: color, borderWidth: 0.5, pointRadius: 0, order: order};
  };
  var speck = function (list, order) {
    return {label: "", data: xy(list), pointStyle: dotImage("#ffffff", 1), pointRadius: 2, order: order};
  };
  var dots = function (name, list, img, order) {
    return {label: name, data: xy(list), pointStyle: img, pointRadius: 2, order: order};
  };
  var sets = [
    dots(legendNames[0], d.yd, dotImage("#f4ea3a", 1.5), 19),
    dots(legendNames[1], d.od, dotImage("#eea21f", 1.5), 16),
    dots(legendNames[2], d.rd, dotImage("#e01e26", 1.5), 13),
    dots(legendNames[3], d.pd, dotImage("#6a3fa0", 1.5), 3),
    dots(legendNames[4], d.y15, dotImage("#1c1c1c", 2.9, "#6e6e6e"), 2),
    dots(climName, d.clim, dotImage("#000000", 4), 1),
    area(d.ya, "#f4ea3a", 20),
    speck(d.wy, 18),
    area(d.oa, "#eea21f", 17),
    speck(d.wo, 15),
    area(d.ra, "#e01e26", 14),
    speck(d.wr, 12)
  ];
  new Chart(document.getElementById(id), {
    type: "scatter",
    data: {datasets: sets},
    options: {
      responsive: false, animation: false,
      layout: {padding: {top: 12.3, right: rightPad}},
      plugins: {tooltip: {enabled: false}, legend: {display: false}},
      scales: {
        x: {
          min: xMin, max: xMax,
          afterBuildTicks: function (s) { s.ticks = xTicks.map(function (v) { return {value: v}; }); },
          afterFit: function (s) { s.height = 39; noMargins(s); },
          grid: {display: false, drawTicks: false},
          border: {display: false},
          ticks: {font: {family: "Liberation Sans", size: 9}, color: "#333", padding: 7, maxRotation: 0, autoSkip: false},
          title: {display: true, text: "Temperature (°C)", font: {family: "Liberation Sans", size: 9.6}, color: "#333", padding: {top: 6, bottom: 6}}
        },
        y: {
          min: 0, max: 100,
          afterBuildTicks: function (s) { s.ticks = humTicks.map(function (v) { return {value: v}; }); },
          afterFit: function (s) { s.width = leftW; noMargins(s); },
          grid: {display: false, drawTicks: false},
          border: {display: false},
          ticks: {font: {family: "Liberation Sans", size: 9}, color: "#333", padding: 4, autoSkip: false},
          title: {display: true, text: "Relative Humidity (%)", font: {family: "Liberation Sans", size: 9.6}, color: "#333", padding: {top: 6, bottom: 6}}
        }
      }
    },
    plugins: [framePlugin(xTicks, tempMinor, humTicks, humMinor, "#666"), keyPlugin(keyX, keyY, 14.25)]
  });
}

heatChart("chartA", 35, 5, 23.93, 46.9, tempTicksA, {
  ya: yellowAreaA, oa: orangeAreaA, ra: redAreaA, yd: yellowDotsA, od: orangeDotsA, rd: redDotsA, pd: purpleDotsA,
  y15: dots2015A, clim: climA, wy: whiteYellowA, wo: whiteOrangeA, wr: []
}, "May Climatology", 215, 20.7);

heatChart("chartB", 40, 6, 23.03, 52.08, tempTicksB, {
  ya: yellowAreaB, oa: orangeAreaB, ra: redAreaB, yd: yellowDotsB, od: orangeDotsB, rd: redDotsB, pd: purpleDotsB,
  y15: dots2015B, clim: climB, wy: whiteYellowB, wo: whiteOrangeB, wr: whiteRedB
}, "Jun Climatology", 213.7, 22.3);
</script>
</body>
</html>
